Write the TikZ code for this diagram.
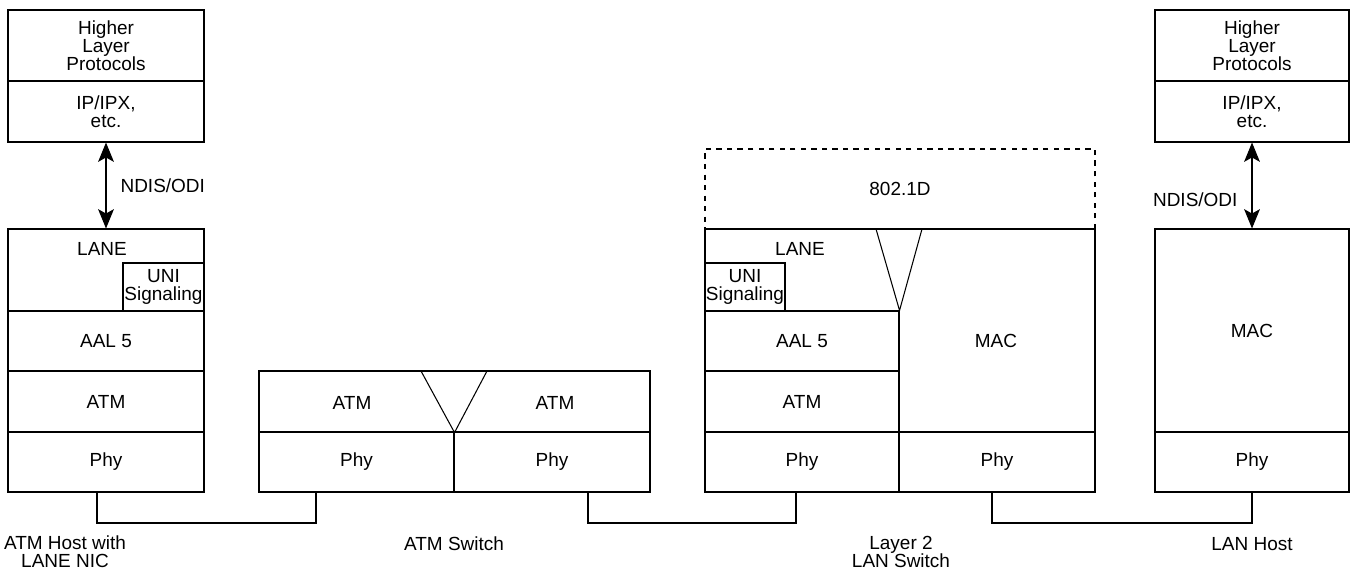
\documentclass[tikz,border=0pt]{standalone}
\usepackage{fontspec}
\setmainfont{Liberation Sans}
\usetikzlibrary{fit,arrows.meta}
\begin{document}
\begin{tikzpicture}[x=0.02cm,y=-0.02cm,line width=0.6pt,font=\fontsize{10.8}{10.4}\selectfont,
  layer/.style={draw,inner sep=0pt},
  tag/.style={inner sep=0pt,align=center},
  dbl/.style={{Stealth[length=11pt,width=9pt,inset=2.5pt]}-{Stealth[length=11pt,width=9pt,inset=2.5pt]}}]
\useasboundingbox (0,0) rectangle (1354,572);
% ATM host with LANE NIC
\node[layer,fit={(8,10) (204,81)},label={[tag]center:Higher\\Layer\\Protocols}] (hhlp) {};
\node[layer,fit={(8,81) (204,142)},label={[tag]center:IP/IPX,\\etc.}] (hip) {};
\node[layer,fit={(8,229) (204,311)}] (hlane) {};
\node[tag] (hlanet) at (102,249) {LANE};
\node[layer,fit={(123,263) (204,311)},label={[tag]center:UNI\\Signaling}] (huni) {};
\node[layer,fit={(8,311) (204,371)},label={[tag]center:AAL 5}] (haal) {};
\node[layer,fit={(8,371) (204,432)},label={[tag]center:ATM}] (hatm) {};
\node[layer,fit={(8,432) (204,492)},label={[tag]center:Phy}] (hphy) {};
\draw[dbl] (hip.south) -- (hlane.north) node[tag,midway,right=8pt] (hndis) {NDIS/ODI};
% ATM switch
\node[layer,fit={(259,371) (650,432)}] (satm) {};
\node[tag] (satml) at (352,403) {ATM};
\node[tag] (satmr) at (555,403) {ATM};
\node[layer,fit={(259,432) (454,492)},label={[tag]center:Phy}] (sphyl) {};
\node[layer,fit={(454,432) (650,492)},label={[tag]center:Phy}] (sphyr) {};
\draw (421,371) -- (satm.south) -- (487,371);
% layer 2 LAN switch
\node[layer,dashed,fit={(705,149) (1095,229)},label={[tag]center:802.1D}] (lbr) {};
\node[layer,fit={(705,229) (1095,432)}] (lup) {};
\node[tag] (llanet) at (800,249) {LANE};
\node[layer,fit={(705,263) (785,311)},label={[tag]center:UNI\\Signaling}] (luni) {};
\node[layer,fit={(705,311) (899,371)},label={[tag]center:AAL 5}] (laal) {};
\node[layer,fit={(705,371) (899,432)},label={[tag]center:ATM}] (latm) {};
\node[tag] (lmac) at (996,341) {MAC};
\node[layer,fit={(705,432) (899,492)},label={[tag]center:Phy}] (lphyl) {};
\node[layer,fit={(899,432) (1095,492)},label={[tag]center:Phy}] (lphyr) {};
\draw (876,229) -- (laal.north east) -- (922,229);
% LAN host
\node[layer,fit={(1155,10) (1349,81)},label={[tag]center:Higher\\Layer\\Protocols}] (rhlp) {};
\node[layer,fit={(1155,81) (1349,142)},label={[tag]center:IP/IPX,\\etc.}] (rip) {};
\node[layer,fit={(1155,229) (1349,432)},label={[tag]center:MAC}] (rmac) {};
\node[layer,fit={(1155,432) (1349,492)},label={[tag]center:Phy}] (rphy) {};
\draw[dbl] (rip.south) -- (rmac.north) node[tag,pos=0.66,left=8pt] (rndis) {NDIS/ODI};
% links
\coordinate (p1) at (97,492);
\coordinate (p2) at (316,492);
\coordinate (p3) at (588,492);
\coordinate (p4) at (796,492);
\coordinate (p5) at (992,492);
\coordinate (p6) at (1252,492);
\draw (p1) -- ++(0,31) -| (p2);
\draw (p3) -- ++(0,31) -| (p4);
\draw (p5) -- ++(0,31) -| (p6);
% captions
\node[tag] (capa) at (65,552) {ATM Host with\\LANE NIC};
\node[tag] (capb) at (454,544) {ATM Switch};
\node[tag] (capc) at (901,552) {Layer 2\\LAN Switch};
\node[tag] (capd) at (1252,544) {LAN Host};
\end{tikzpicture}
\end{document}
